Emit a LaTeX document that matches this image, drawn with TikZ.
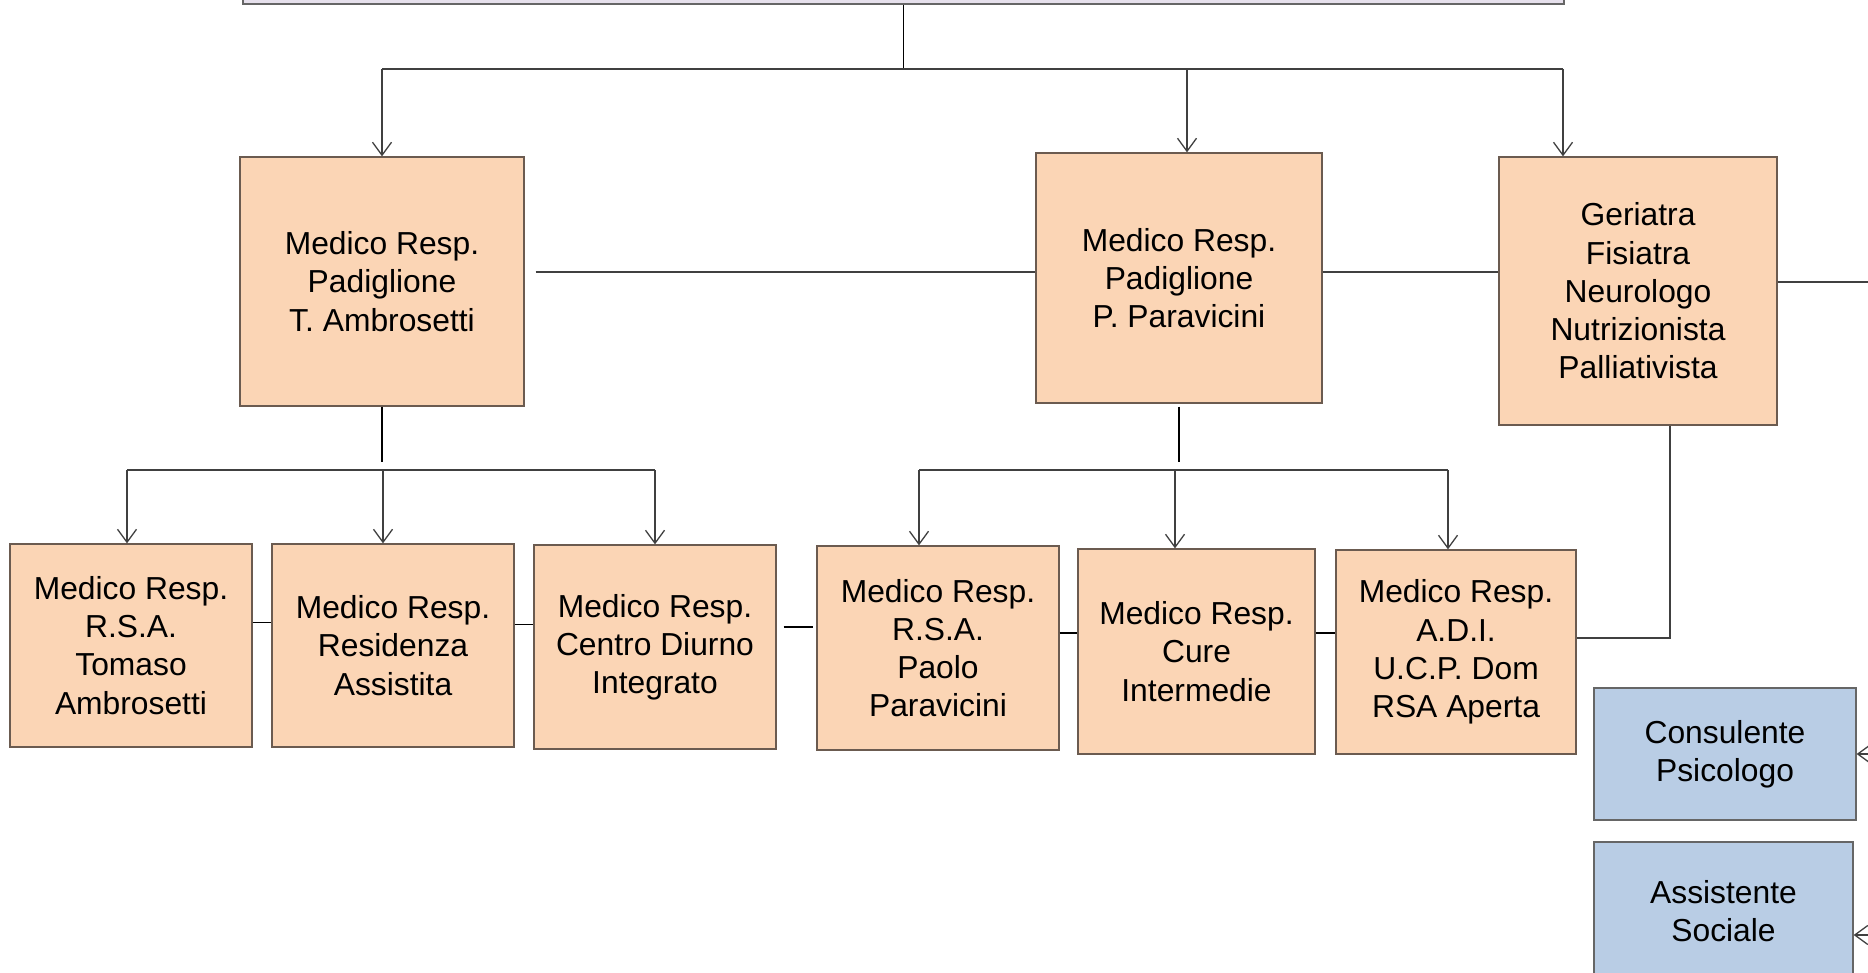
\documentclass[tikz,border=0pt]{standalone}
\usepackage{fontspec}
\setmainfont{Liberation Sans}
\usetikzlibrary{arrows.meta}
\definecolor{naranja}{HTML}{FBD5B5}
\definecolor{borde}{HTML}{6B5B50}
\definecolor{celeste}{HTML}{B9CDE5}
\definecolor{lila}{HTML}{E6E0EC}
\tikzset{
  caja/.style={draw=borde, fill=naranja, line width=0.65pt, align=center, inner sep=0pt,
    font=\fontsize{15.9pt}{19.1pt}\selectfont},
  cajaazul/.style={caja, fill=celeste, draw=black!60},
  linea/.style={black!75, line width=0.65pt},
  flecha/.style={linea, -{Straight Barb[length=6.5pt,width=9.5pt]}}
}
\begin{document}
\begin{tikzpicture}[x=0.5pt, y=-0.5pt]
	\useasboundingbox (0,0) rectangle (1868,973);
	% Caja superior (cortada)
	\node[caja, fill=lila, draw=black!60, minimum width=660.5pt, minimum height=30pt] (capo) at (903.5,-26) {};
	
	% Primer nivel
	\node[caja, minimum width=142pt, minimum height=124.5pt] (ambro) at (382,281.5) {Medico Resp.\\Padiglione\\T. Ambrosetti};
	\node[caja, minimum width=143pt, minimum height=125pt] (parav) at (1179,278) {Medico Resp.\\Padiglione\\P. Paravicini};
	\node[caja, minimum width=139pt, minimum height=134pt] (geri) at (1638,291) {Geriatra\\Fisiatra\\Neurologo\\Nutrizionista\\Palliativista};
	
	% Segundo nivel
	\node[caja, minimum width=121pt, minimum height=101.5pt] (rsaT) at (131,645.5) {Medico Resp.\\R.S.A.\\Tomaso\\Ambrosetti};
	\node[caja, minimum width=121pt, minimum height=101.5pt] (resid) at (393,645.5) {Medico Resp.\\Residenza\\Assistita};
	\node[caja, minimum width=121pt, minimum height=102pt] (diurno) at (655,647) {Medico Resp.\\Centro Diurno\\Integrato};
	\node[caja, minimum width=121pt, minimum height=102pt] (rsaP) at (938,648) {Medico Resp.\\R.S.A.\\Paolo\\Paravicini};
	\node[caja, minimum width=118.5pt, minimum height=102.5pt] (cure) at (1196.5,651.5) {Medico Resp.\\Cure\\Intermedie};
	\node[caja, minimum width=120pt, minimum height=102pt] (adi) at (1456,652) {Medico Resp.\\A.D.I.\\U.C.P. Dom\\RSA Aperta};
	
	% Consulenti
	\node[cajaazul, minimum width=131pt, minimum height=66pt] (psico) at (1725,754) {Consulente\\Psicologo};
	\node[cajaazul, minimum width=129.5pt, minimum height=69pt] (soc) at (1723.5,911) {Assistente\\Sociale};
	
	% Ramas desde la caja superior
	\coordinate (b0a) at (382,69);
	\coordinate (b0b) at (1187,69);
	\coordinate (b0c) at (1563,69);
	\draw[linea, black] (capo.south) -- (capo.south |- b0a);
	\draw[linea] (b0a) -- (b0c);
	\draw[flecha] (b0a) -- (b0a |- ambro.north);
	\draw[flecha] (b0b) -- (b0b |- parav.north);
	\draw[flecha] (b0c) -- (b0c |- geri.north);
	
	% Enlaces del primer nivel
	\coordinate (fuera) at (1868,282);
	\draw[linea, shorten <=5.5pt, transform canvas={yshift=3pt}] (ambro.east |- parav.west) -- (parav.west);
	\draw[linea, transform canvas={yshift=3pt}] (parav.east) -- (parav.east -| geri.west);
	\draw[linea] (geri.east |- fuera) -- (fuera);
	
	% Ramas de T. Ambrosetti
	\coordinate (b1a) at (127,470);
	\coordinate (b1b) at (383,470);
	\coordinate (b1c) at (655,470);
	\draw[linea, black, shorten >=4pt] (ambro.south) -- (ambro.south |- b1b);
	\draw[linea] (b1a) -- (b1c);
	\draw[flecha] (b1a) -- (b1a |- rsaT.north);
	\draw[flecha] (b1b) -- (b1b |- resid.north);
	\draw[flecha] (b1c) -- (b1c |- diurno.north);
	
	% Ramas de P. Paravicini
	\coordinate (b2a) at (919,470);
	\coordinate (b2b) at (1175,470);
	\coordinate (b2c) at (1448,470);
	\draw[linea, black, shorten <=1.5pt, shorten >=4pt] (parav.south) -- (parav.south |- b2b);
	\draw[linea] (b2a) -- (b2c);
	\draw[flecha] (b2a) -- (b2a |- rsaP.north);
	\draw[flecha] (b2b) -- (b2b |- cure.north);
	\draw[flecha] (b2c) -- (b2c |- adi.north);
	
	% Enlaces del segundo nivel
	\draw[linea, black, transform canvas={yshift=11.5pt}] (rsaT.east) -- (rsaT.east -| resid.west);
	\draw[linea, black, transform canvas={yshift=10.5pt}] (resid.east) -- (resid.east -| diurno.west);
	\draw[linea, black, transform canvas={yshift=10pt}, shorten <=3.5pt, shorten >=1.5pt] (diurno.east) -- (diurno.east -| rsaP.west);
	\draw[linea, black, transform canvas={yshift=7.5pt}] (rsaP.east) -- (rsaP.east -| cure.west);
	\draw[linea, black, transform canvas={yshift=9.25pt}] (cure.east) -- (cure.east -| adi.west);
	
	% Geriatra hacia A.D.I.
	\coordinate (codo) at (1670,638);
	\draw[linea] (codo |- geri.south) -- (codo) -- (codo -| adi.east);
	
	% Flechas hacia los consulenti
	\coordinate (fp) at (1895,754);
	\coordinate (fs) at (1895,935);
	\draw[flecha] (fp) -- (psico.east);
	\draw[flecha] (fs) -- (fs -| soc.east);
\end{tikzpicture}
\end{document}
